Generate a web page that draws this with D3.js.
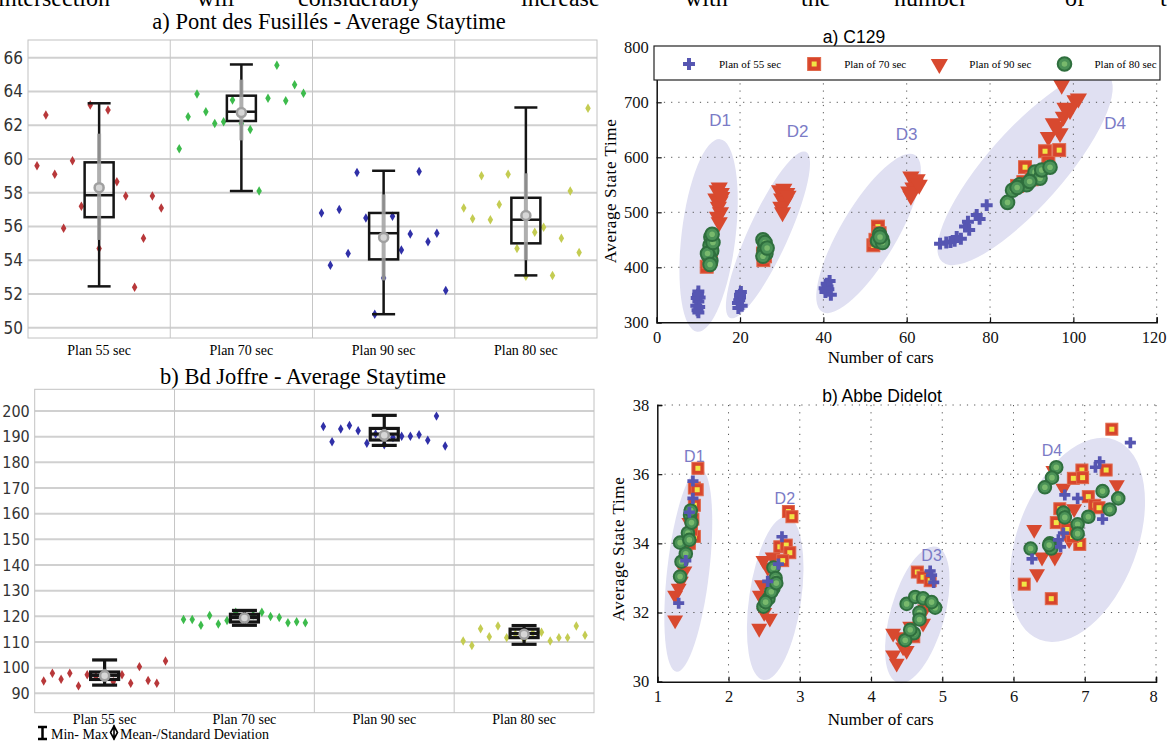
<!DOCTYPE html>
<html>
<head>
<meta charset="utf-8">
<script src="https://cdn.jsdelivr.net/npm/d3@7"></script>
<style>
  body { margin: 0; background: #fff; }
  svg { display: block; }
</style>
</head>
<body>
<svg id="fig" width="1168" height="749"></svg>
<script>
// ---------- data ----------
const headerWords = ['intersection', 'will', 'considerably', 'increase', 'with', 'the', 'number', 'of', 't'];

const plans = ['Plan 55 sec', 'Plan 70 sec', 'Plan 90 sec', 'Plan 80 sec'];

// a) Pont des Fusillés
const pontTicks = [50, 52, 54, 56, 58, 60, 62, 64, 66];
const pontPoints = [
  [59.6, 62.6, 59.1, 55.9, 59.9, 57.2, 63.2, 54.7, 62.9, 58.65, 57.8, 52.4, 55.3, 57.8, 57.1],
  [60.6, 62.5, 63.85, 62.8, 62.1, 62.2, 63.5, 62.1, 61.75, 58.1, 63.6, 65.55, 63.45, 64.4, 63.9],
  [56.8, 53.7, 57.0, 54.4, 59.2, 56.5, 50.8, 52.95, 56.6, 54.6, 55.55, 59.25, 55.1, 55.6, 52.2],
  [57.1, 56.45, 59.0, 56.4, 57.3, 59.1, 54.7, 53.05, 55.65, 55.95, 53.1, 55.3, 58.1, 54.45, 63.0],
];
const pontMin = [52.45, 58.1, 50.8, 53.1];
const pontQ1 = [56.55, 62.25, 54.05, 55.0];
const pontMedian = [57.85, 62.8, 55.6, 56.4];
const pontQ3 = [59.8, 63.75, 56.8, 57.7];
const pontMax = [63.3, 65.6, 59.3, 63.05];
const pontMean = [58.3, 62.75, 55.35, 56.65];
const pontSdLow = [55.2, 61.1, 52.8, 54.0];
const pontSdHigh = [61.5, 64.7, 57.9, 59.15];

// b) Bd Joffre
const joffreTicks = [90, 100, 110, 120, 130, 140, 150, 160, 170, 180, 190, 200];
const joffrePoints = [
  [94.8, 97.8, 95.5, 97.8, 92.9, 97.2, 96.6, 96.3, 94.5, 97.2, 93.9, 100.4, 95, 93.9, 102.6],
  [118.8, 118.8, 116.5, 120.3, 117, 118.4, 121.6, 119.5, 120.5, 121.6, 119.9, 119.5, 117.5, 117.9, 117.5],
  [194.0, 188.0, 193.0, 194.3, 192.3, 187.4, 191.0, 186.8, 189.7, 190.2, 190.2, 190.7, 188.6, 198.0, 186.4],
  [110.4, 108.6, 115.2, 112, 116.2, 111.7, 113, 111, 113.5, 113.8, 110.4, 111.7, 111.7, 116.2, 112.6],
];
const joffreMin = [93.2, 116.5, 186.6, 109.1];
const joffreQ1 = [95.4, 117.8, 188.7, 111.7];
const joffreMedian = [97, 119.5, 191, 113.3];
const joffreQ3 = [98.3, 120.8, 193.2, 115];
const joffreMax = [103, 122.3, 198.3, 116.4];
const joffreMean = [96.8, 119.3, 190.5, 113];
const joffreSdLow = [94.5, 117.5, 188, 111];
const joffreSdHigh = [99.5, 121, 193, 115];

// scatter series
const seriesNames = ['Plan of 55 sec', 'Plan of 70 sec', 'Plan of 90 sec', 'Plan of 80 sec'];

// a) C129
const c129Ticks = { x: [0, 20, 40, 60, 80, 100, 120], y: [300, 400, 500, 600, 700, 800] };
const c129Plan55 = [
  [9.5, 330], [10, 338], [9.8, 322], [10.3, 345], [10, 356], [9.6, 344], [10.2, 328], [10, 318], [9.9, 350],
  [19.5, 335], [20, 345], [20.2, 355], [19.8, 340], [20.4, 330], [20, 350], [19.6, 326],
  [40.5, 355], [41, 365], [41.5, 375], [41.2, 360], [40.8, 370], [41.8, 350], [40.3, 362],
  [68, 443], [69.5, 445], [70.5, 446], [71.5, 448], [72, 455], [73, 452], [74, 474], [74.7, 483],
  [75, 468], [76.8, 495], [77.5, 488], [79.2, 513],
];
const c129Plan70 = [
  [12, 401], [12.5, 410], [13, 415],
  [25.6, 413], [26, 420], [25.5, 425],
  [52, 440], [53.1, 474], [52.5, 450], [53.5, 462],
  [86.5, 548], [88, 555], [88.4, 582], [90, 560], [92, 570], [93.2, 611], [94, 590], [96.6, 613],
];
const c129Plan90 = [
  [14.5, 540], [15, 545], [15.5, 535], [14.2, 525], [15.2, 520], [14.8, 510], [15.3, 500], [14.6, 492], [15, 482], [15.6, 528],
  [29.5, 540], [30.5, 543], [31.2, 535], [30, 525], [30.8, 520], [29.8, 510], [30.2, 500], [31.5, 530],
  [61, 565], [62.5, 560], [62, 552], [61.5, 545], [60.5, 538], [61, 530], [63, 550],
  [94, 637], [96.8, 644], [95.2, 662], [97.6, 674], [99.2, 686], [100.4, 704], [101.2, 707], [97.2, 732], [98, 690], [96, 655],
];
const c129Plan80 = [
  [13, 455], [12.8, 440], [13.2, 430], [12.5, 420], [13, 412], [12.2, 425], [13.5, 445], [12.8, 405], [13.3, 460],
  [25.5, 450], [26, 440], [25.8, 430], [26.2, 425], [25.5, 420], [26, 445], [26.5, 435],
  [53.5, 460], [54, 452], [53, 448], [54.2, 445], [53.6, 455],
  [84.2, 518], [85.4, 540], [87.1, 550], [88.8, 550], [90, 560], [90.8, 573], [92, 562], [92.4, 577], [94.4, 582], [86.5, 545], [89.5, 556],
];
// zones: major axis from -> to (data units), label anchor
const c129Zones = [
  { label: 'D1', from: [9.7, 283], to: [15.2, 633], at: [15.2, 667] },
  { label: 'D2', from: [17.6, 308], to: [35.8, 610], at: [33.8, 648] },
  { label: 'D3', from: [39.7, 319], to: [62, 604], at: [60, 643] },
  { label: 'D4', from: [68.5, 410], to: [108.3, 750], at: [110, 662] },
];

// b) Abbe Didelot
const abbeTicks = { x: [1, 2, 3, 4, 5, 6, 7, 8], y: [30, 32, 34, 36, 38] };
const abbePlan55 = [
  [1.3, 32.27], [1.5, 35.8], [1.5, 35.3], [1.45, 34.9], [1.4, 33.5],
  [2.75, 34.19], [2.55, 32.9], [2.7, 33.4],
  [4.85, 33.08], [4.88, 32.87], [4.83, 33.2],
  [7.64, 36.91], [7.21, 36.36], [7.15, 36.2], [6.72, 35.4], [6.9, 35.3], [6.63, 34.1], [6.66, 33.9], [6.26, 33.55], [7.25, 34.7], [6.7, 34.3],
];
const abbePlan70 = [
  [1.57, 36.17], [1.52, 35.6], [1.56, 35.55], [1.52, 35.1], [1.5, 34.7], [1.52, 34.2], [1.45, 34.0], [1.48, 34.4],
  [2.84, 34.92], [2.89, 34.77], [2.72, 33.9], [2.81, 33.95], [2.86, 33.73], [2.76, 33.5],
  [4.65, 33.17], [4.73, 33.02], [4.83, 32.92], [4.6, 31.3],
  [7.38, 37.3], [6.96, 36.12], [7.3, 36.12], [6.84, 35.88], [6.97, 35.9], [7.05, 35.35], [7.14, 35.1], [7.2, 35.03],
  [6.6, 34.6], [6.93, 33.97], [6.83, 34.2], [6.15, 32.82], [6.53, 32.4], [6.65, 35.0], [6.75, 34.4],
];
const abbePlan90 = [
  [1.25, 31.78], [1.25, 32.5], [1.3, 32.7], [1.38, 33.2], [1.42, 33.8], [1.48, 34.2], [1.45, 34.6], [1.33, 32.9],
  [2.43, 31.54], [2.58, 31.83], [2.49, 33.5], [2.44, 32.5], [2.5, 32.0], [2.55, 33.3], [2.62, 33.6], [2.47, 32.8],
  [4.36, 30.53], [4.4, 31.3], [4.31, 31.4], [4.31, 30.77], [4.5, 30.9], [4.73, 31.69], [4.76, 32.1], [4.55, 31.6], [4.45, 31.0],
  [6.56, 36.1], [6.7, 35.59], [7.45, 35.69], [6.29, 34.4], [6.4, 33.6], [6.33, 33.12], [6.58, 33.6], [6.72, 34.5], [6.78, 34.1], [6.85, 35.0],
];
const abbePlan80 = [
  [1.32, 33.04], [1.34, 33.47], [1.32, 34.02], [1.46, 34.82], [1.4, 33.7], [1.43, 34.3], [1.48, 34.6], [1.45, 34.1], [1.47, 34.95],
  [2.49, 32.17], [2.56, 32.4], [2.63, 32.7], [2.63, 33.3], [2.66, 33.0], [2.6, 32.6], [2.52, 32.3], [2.67, 32.85],
  [4.5, 32.25], [4.62, 32.45], [4.73, 32.41], [4.9, 32.14], [4.68, 32.0], [4.68, 31.8], [4.6, 31.4], [4.48, 31.2], [4.85, 32.3], [4.55, 31.5],
  [6.6, 36.2], [6.54, 35.9], [6.44, 35.62], [7.25, 35.51], [7.47, 35.3], [7.35, 34.98], [7.05, 34.77], [6.9, 34.55], [6.9, 34.28],
  [6.7, 34.89], [6.72, 34.75], [6.51, 34.0], [6.53, 33.85], [6.24, 33.85], [6.5, 33.95],
];
const abbeZones = [
  { label: 'D1', from: [1.27, 30.29], to: [1.6, 36.17], at: [1.52, 36.5] },
  { label: 'D2', from: [2.49, 30.05], to: [2.82, 34.77], at: [2.79, 35.3] },
  { label: 'D3', from: [4.38, 29.97], to: [4.92, 33.9], at: [4.85, 33.66] },
  { label: 'D4', from: [6.37, 31.21], to: [7.425, 36.99], at: [6.54, 36.7] },
];

// ---------- styles ----------
const serif = "'Liberation Serif', 'Times New Roman', serif";
const sans = "'Liberation Sans', Arial, sans-serif";
const narrow = "'Liberation Sans Narrow', 'DejaVu Sans Condensed', 'Liberation Sans', sans-serif";
const pointColors = ['#b8383a', '#3dbb4c', '#3030a8', '#c4cc52'];
const zoneFill = '#e0e0f2';
const zoneText = '#7b7bc6';

const svg = d3.select('#fig');
svg.append('rect').attr('width', 1168).attr('height', 749).attr('fill', '#fff');

// running text of the page, cut by the top edge as in the source
const headerX = [-2, 197, 298, 521, 685, 801, 894, 1065, 1160];
svg.append('g')
  .selectAll('text')
  .data(headerWords)
  .join('text')
  .attr('x', (d, i) => headerX[i])
  .attr('y', 6)
  .attr('font-family', serif)
  .attr('font-size', 24)
  .text((d) => d);

// ---------- box plot panels ----------
function drawBoxPanel(cfg) {
  const g = svg.append('g');
  const x = d3.scaleBand().domain(plans).range([cfg.left, cfg.right]);
  const y = d3.scaleLinear().domain(cfg.domain).range([cfg.bottom, cfg.top]);

  g.append('text')
    .attr('x', cfg.titleX).attr('y', cfg.titleY)
    .attr('text-anchor', 'middle')
    .attr('font-family', serif).attr('font-size', 22.5)
    .text(cfg.title);

  // horizontal grid
  g.selectAll('line.hgrid')
    .data(cfg.ticks)
    .join('line')
    .attr('class', 'hgrid')
    .attr('x1', cfg.left).attr('x2', cfg.right)
    .attr('y1', (d) => y(d)).attr('y2', (d) => y(d))
    .attr('stroke', '#d0d0d0').attr('stroke-width', 2);

  // category dividers
  g.selectAll('line.divider')
    .data(plans.slice(1))
    .join('line')
    .attr('class', 'divider')
    .attr('x1', (d) => x(d)).attr('x2', (d) => x(d))
    .attr('y1', cfg.top).attr('y2', cfg.bottom)
    .attr('stroke', '#c6c6c6');

  g.append('rect')
    .attr('x', cfg.left).attr('y', cfg.top)
    .attr('width', cfg.right - cfg.left).attr('height', cfg.bottom - cfg.top)
    .attr('fill', 'none').attr('stroke', '#c2c2c2');

  // tick labels
  g.selectAll('text.ytick')
    .data(cfg.ticks)
    .join('text')
    .attr('class', 'ytick')
    .attr('x', cfg.left - 5).attr('y', (d) => y(d))
    .attr('dy', '0.35em')
    .attr('text-anchor', 'end')
    .attr('font-family', narrow).attr('font-size', cfg.tickSize)
    .attr('font-stretch', 'condensed')
    .attr('fill', '#333')
    .text((d) => d);

  g.selectAll('text.xcat')
    .data(plans)
    .join('text')
    .attr('class', 'xcat')
    .attr('x', (d) => x(d) + x.bandwidth() / 2).attr('y', cfg.labelY)
    .attr('text-anchor', 'middle')
    .attr('font-family', serif).attr('font-size', 14)
    .text((d) => d);

  // raw points, spread over each category
  plans.forEach((p, i) => {
    const px = d3.scalePoint()
      .domain(d3.range(cfg.points[i].length))
      .range([x(p) + 9, x(p) + x.bandwidth() - 9]);
    g.append('g')
      .selectAll('path')
      .data(cfg.points[i])
      .join('path')
      .attr('d', d3.symbol(d3.symbolDiamond, 26))
      .attr('transform', (d, j) => `translate(${px(j)},${y(d)})`)
      .attr('fill', pointColors[i]);
  });

  // box + whiskers + mean/sd
  const s = cfg.stats;
  plans.forEach((p, i) => {
    const c = x(p) + x.bandwidth() / 2;
    const b = g.append('g')
      .attr('stroke', '#151515').attr('stroke-width', cfg.boxStroke).attr('fill', 'none');
    b.append('line').attr('x1', c).attr('x2', c).attr('y1', y(s.max[i])).attr('y2', y(s.q3[i]));
    b.append('line').attr('x1', c).attr('x2', c).attr('y1', y(s.q1[i])).attr('y2', y(s.min[i]));
    [s.max[i], s.min[i]].forEach((v) => {
      b.append('line')
        .attr('x1', c - cfg.capWidth / 2).attr('x2', c + cfg.capWidth / 2)
        .attr('y1', y(v)).attr('y2', y(v));
    });
    b.append('rect')
      .attr('x', c - cfg.boxWidth / 2).attr('y', y(s.q3[i]))
      .attr('width', cfg.boxWidth).attr('height', y(s.q1[i]) - y(s.q3[i]));
    b.append('line')
      .attr('x1', c - cfg.boxWidth / 2).attr('x2', c + cfg.boxWidth / 2)
      .attr('y1', y(s.median[i])).attr('y2', y(s.median[i]));

    g.append('line')
      .attr('x1', c).attr('x2', c)
      .attr('y1', y(s.sdHigh[i])).attr('y2', y(s.sdLow[i]))
      .attr('stroke', '#a2a2a2').attr('stroke-width', 4).attr('opacity', 0.85);
    g.append('circle')
      .attr('cx', c).attr('cy', y(s.mean[i])).attr('r', 4.5)
      .attr('fill', '#d6d6d6').attr('stroke', '#a0a0a0').attr('stroke-width', 2.5);
  });
}

drawBoxPanel({
  title: 'a) Pont des Fusillés - Average Staytime', titleX: 329, titleY: 29,
  left: 28, right: 597, top: 40, bottom: 338,
  domain: [49.39, 67.05], ticks: pontTicks, tickSize: 17, labelY: 355,
  points: pontPoints,
  stats: { min: pontMin, q1: pontQ1, median: pontMedian, q3: pontQ3, max: pontMax, mean: pontMean, sdLow: pontSdLow, sdHigh: pontSdHigh },
  boxWidth: 29, capWidth: 23, boxStroke: 2.5,
});

drawBoxPanel({
  title: 'b) Bd Joffre - Average Staytime', titleX: 303, titleY: 384,
  left: 34.7, right: 594, top: 389.3, bottom: 712.7,
  domain: [82.45, 208.45], ticks: joffreTicks, tickSize: 16, labelY: 724,
  points: joffrePoints,
  stats: { min: joffreMin, q1: joffreQ1, median: joffreMedian, q3: joffreQ3, max: joffreMax, mean: joffreMean, sdLow: joffreSdLow, sdHigh: joffreSdHigh },
  boxWidth: 28, capWidth: 25, boxStroke: 3.2,
});

// legend under the box plots
const lg = svg.append('g');
lg.append('path')
  .attr('d', 'M38,727 H47 M42.5,727 V739 M38,739 H47')
  .attr('stroke', '#000').attr('stroke-width', 2.5).attr('fill', 'none');
lg.append('text').attr('x', 51).attr('y', 739)
  .attr('font-family', serif).attr('font-size', 14).text('Min- Max');
lg.append('path')
  .attr('d', 'M114,726 L117.5,732.5 L114,739 L110.5,732.5 Z M114,725 V740')
  .attr('stroke', '#000').attr('stroke-width', 1.6).attr('fill', 'none');
lg.append('text').attr('x', 120).attr('y', 739)
  .attr('font-family', serif).attr('font-size', 14).text('Mean-/Standard Deviation');

// ---------- scatter panels ----------
function drawMarker(g, kind, px, py, big) {
  const k = big ? 1.08 : 1;
  if (kind === 0) {
    g.append('path')
      .attr('d', d3.symbol(d3.symbolCross, 68 * k * k))
      .attr('transform', `translate(${px},${py})`)
      .attr('fill', '#5656b2');
  } else if (kind === 1) {
    const h = 6 * k;
    g.append('rect')
      .attr('x', px - h).attr('y', py - h).attr('width', 2 * h).attr('height', 2 * h)
      .attr('fill', '#d8452c').attr('stroke', '#e0684a').attr('stroke-width', 1);
    g.append('rect')
      .attr('x', px - 2.5).attr('y', py - 2.5).attr('width', 5).attr('height', 5)
      .attr('fill', '#f1e545');
  } else if (kind === 2) {
    g.append('path')
      .attr('d', d3.symbol(d3.symbolTriangle, 110 * k * k))
      .attr('transform', `translate(${px},${py}) rotate(180)`)
      .attr('fill', '#d8492f');
  } else {
    g.append('circle')
      .attr('cx', px).attr('cy', py).attr('r', 6.3 * k)
      .attr('fill', '#4b9257').attr('stroke', '#2f6f3e').attr('stroke-width', 2);
    g.append('circle')
      .attr('cx', px).attr('cy', py).attr('r', 2.8)
      .attr('fill', '#78b96c');
  }
}

function drawScatterPanel(cfg) {
  const g = svg.append('g');
  const x = d3.scaleLinear().domain(cfg.xDomain).range([cfg.left, cfg.right]);
  const y = d3.scaleLinear().domain(cfg.yDomain).range([cfg.bottom, cfg.top]);

  // zones
  cfg.zones.forEach((z, i) => {
    const x1 = x(z.from[0]), y1 = y(z.from[1]);
    const x2 = x(z.to[0]), y2 = y(z.to[1]);
    const cx = (x1 + x2) / 2, cy = (y1 + y2) / 2;
    const len = Math.hypot(x2 - x1, y2 - y1);
    const ang = Math.atan2(y2 - y1, x2 - x1) * 180 / Math.PI;
    g.append('ellipse')
      .attr('cx', cx).attr('cy', cy)
      .attr('rx', len / 2).attr('ry', cfg.zoneHalf[i])
      .attr('transform', `rotate(${ang},${cx},${cy})`)
      .attr('fill', zoneFill);
  });

  // dotted grid
  g.selectAll('line.vg')
    .data(cfg.ticks.x.slice(1))
    .join('line')
    .attr('class', 'vg')
    .attr('x1', (d) => x(d)).attr('x2', (d) => x(d))
    .attr('y1', cfg.top).attr('y2', cfg.bottom)
    .attr('stroke', '#555').attr('stroke-dasharray', '1.2,6');
  g.selectAll('line.hg')
    .data(cfg.ticks.y.slice(1))
    .join('line')
    .attr('class', 'hg')
    .attr('x1', cfg.left).attr('x2', cfg.right)
    .attr('y1', (d) => y(d)).attr('y2', (d) => y(d))
    .attr('stroke', '#555').attr('stroke-dasharray', '1.2,6');

  // axes (matlab-like, ticks inside)
  const xAxis = d3.axisBottom(x).tickValues(cfg.ticks.x).tickFormat(d3.format('d')).tickSize(-5).tickPadding(9);
  const yAxis = d3.axisLeft(y).tickValues(cfg.ticks.y).tickFormat(d3.format('d')).tickSize(-5).tickPadding(8);
  const ax = g.append('g').attr('transform', `translate(0,${cfg.bottom})`).call(xAxis);
  const ay = g.append('g').attr('transform', `translate(${cfg.left},0)`).call(yAxis);
  [ax, ay].forEach((a) => {
    a.select('.domain').attr('stroke', '#111').attr('stroke-width', 1.5);
    a.selectAll('.tick line').attr('stroke', '#111').attr('stroke-width', 1.2);
    a.selectAll('.tick text')
      .attr('font-family', serif).attr('font-size', 16.5).attr('fill', '#111');
  });
  // keep the last x label inside the page
  ax.selectAll('.tick text').filter((d, i, n) => i === n.length - 1).attr('dx', -3);

  // zone labels
  g.selectAll('text.zl')
    .data(cfg.zones)
    .join('text')
    .attr('class', 'zl')
    .attr('x', (d) => x(d.at[0])).attr('y', (d) => y(d.at[1]))
    .attr('dy', '0.35em')
    .attr('text-anchor', 'middle')
    .attr('font-family', sans).attr('font-size', cfg.zoneFont)
    .attr('fill', zoneText)
    .text((d) => d.label);

  // markers; drawing order keeps circles & crosses on top
  const pg = g.append('g');
  [2, 1, 3, 0].forEach((k) => {
    cfg.series[k].forEach((d) => drawMarker(pg, k, x(d[0]), y(d[1]), cfg.bigMarkers));
  });

  // titles & axis labels
  g.append('text')
    .attr('x', cfg.titleX).attr('y', cfg.titleY)
    .attr('text-anchor', 'middle')
    .attr('font-family', sans).attr('font-size', 17.5)
    .text(cfg.title);
  g.append('text')
    .attr('x', (cfg.left + cfg.right) / 2 - 26).attr('y', cfg.xLabelY)
    .attr('text-anchor', 'middle')
    .attr('font-family', serif).attr('font-size', 17)
    .text('Number of cars');
  g.append('text')
    .attr('transform', `translate(${cfg.yLabelX},${cfg.yLabelY}) rotate(-90)`)
    .attr('text-anchor', 'middle')
    .attr('font-family', serif).attr('font-size', 17)
    .attr('letter-spacing', 0.6)
    .text('Average State Time');
}

drawScatterPanel({
  title: 'a) C129', titleX: 854, titleY: 43,
  left: 656.7, right: 1156.7, top: 47.3, bottom: 322.3,
  xDomain: [0, 120], yDomain: [300, 800], ticks: c129Ticks,
  series: [c129Plan55, c129Plan70, c129Plan90, c129Plan80],
  zones: c129Zones, zoneHalf: [27, 20, 28, 38], zoneFont: 17, bigMarkers: true,
  xLabelY: 363, yLabelX: 616, yLabelY: 191,
});

// legend of the scatter panels
const leg = svg.append('g');
leg.append('rect')
  .attr('x', 654).attr('y', 46).attr('width', 506).attr('height', 34)
  .attr('fill', '#fff').attr('stroke', '#222').attr('stroke-width', 1.2);
const legX = d3.scalePoint().domain(d3.range(seriesNames.length)).range([689, 1064.5]);
seriesNames.forEach((name, k) => {
  drawMarker(leg, k, legX(k), 64, true);
  leg.append('text')
    .attr('x', legX(k) + 30).attr('y', 64)
    .attr('dy', '0.35em')
    .attr('font-family', serif).attr('font-size', 11)
    .text(name);
});

drawScatterPanel({
  title: 'b) Abbe Didelot', titleX: 882, titleY: 402,
  left: 657.3, right: 1156, top: 405, bottom: 681.7,
  xDomain: [1, 8], yDomain: [30, 38], ticks: abbeTicks,
  series: [abbePlan55, abbePlan70, abbePlan90, abbePlan80],
  zones: abbeZones, zoneHalf: [21, 26, 27, 60], zoneFont: 16, bigMarkers: false,
  xLabelY: 725, yLabelX: 624, yLabelY: 549,
});
</script>
</body>
</html>
